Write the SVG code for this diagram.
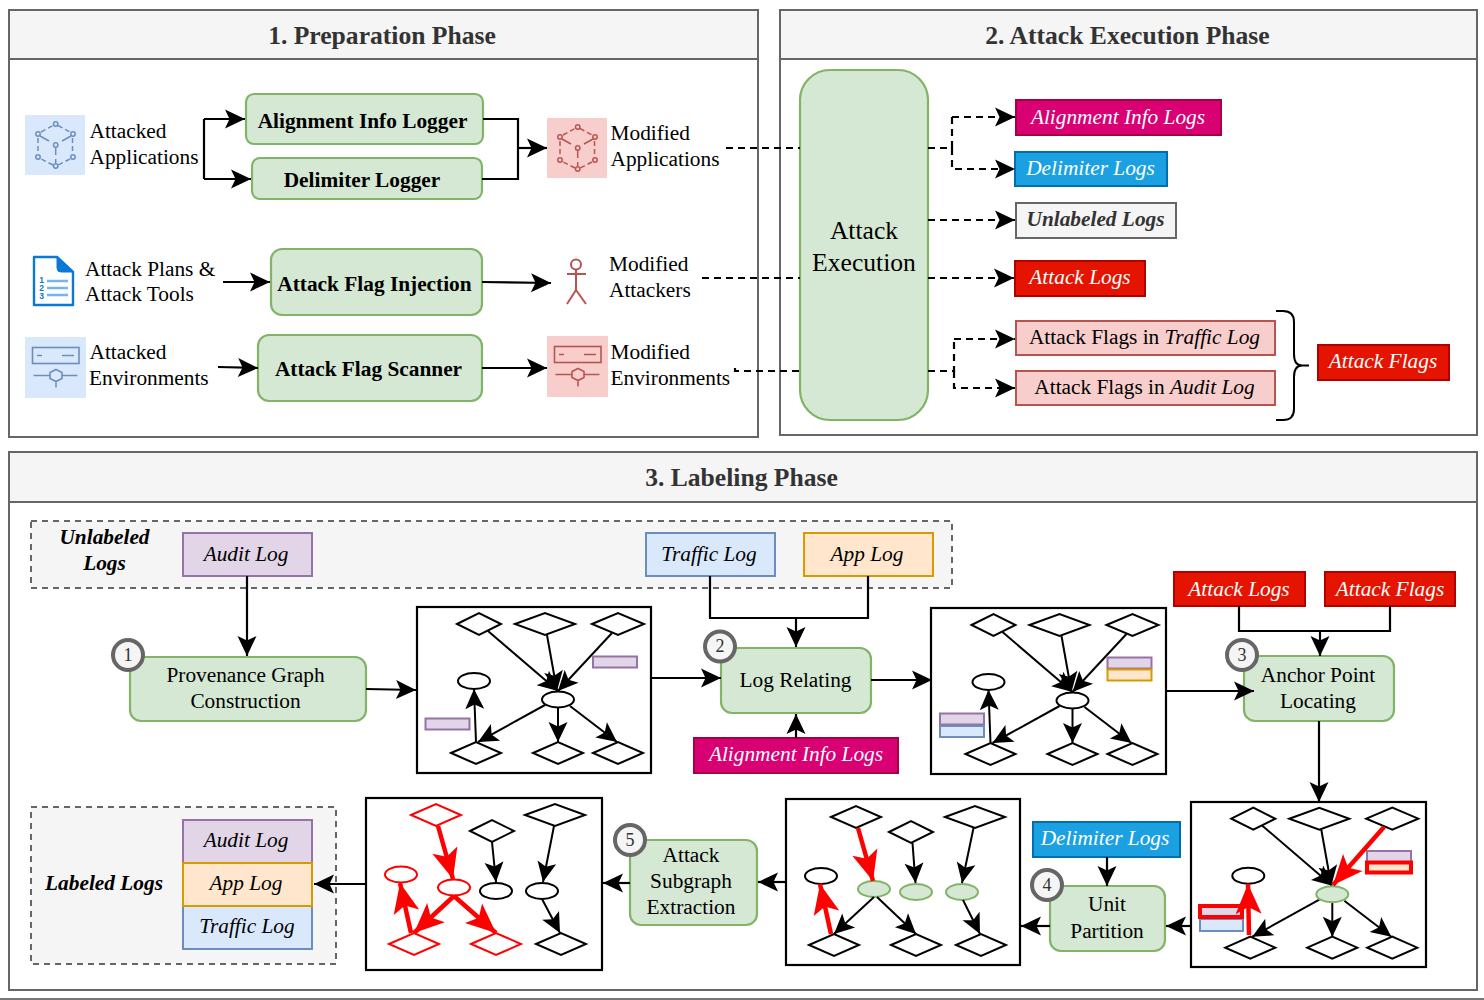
<svg xmlns="http://www.w3.org/2000/svg" width="1484" height="1000" viewBox="0 0 1484 1000">
<style>
text{font-family:"Liberation Serif","Times New Roman",serif;font-size:21.33px;fill:#000}
.m{text-anchor:middle}
.b{font-weight:bold}
.i{font-style:italic}
.w{fill:#fff}
.h{font-size:25.6px;font-weight:bold;fill:#333;text-anchor:middle}
.big{font-size:25.6px;text-anchor:middle}
.panel{fill:#fff;stroke:#666;stroke-width:2}
.phead{fill:#f5f5f5;stroke:#666;stroke-width:2}
.g{fill:#d5e8d4;stroke:#82b366;stroke-width:2.2}
.dashbox{fill:#f5f5f5;stroke:#666;stroke-width:2;stroke-dasharray:6 5}
.pur{fill:#e1d5e7;stroke:#9673a6;stroke-width:2}
.blu{fill:#dae8fc;stroke:#6c8ebf;stroke-width:2}
.ora{fill:#ffe6cc;stroke:#d79b00;stroke-width:2}
.red{fill:#e51400;stroke:#b20000;stroke-width:2}
.pnk{fill:#f8cecc;stroke:#b85450;stroke-width:2}
.mag{fill:#d80073;stroke:#a50040;stroke-width:2}
.sky{fill:#1ba1e2;stroke:#006eaf;stroke-width:2}
.gry{fill:#f5f5f5;stroke:#666;stroke-width:2}
.badge{fill:#f5f5f5;stroke:#666;stroke-width:4}
.bn{font-size:18px;fill:#333;text-anchor:middle}
.box{fill:#fff;stroke:#000;stroke-width:2.2}
.d{fill:#fff;stroke:#000;stroke-width:2}
.dr{fill:#fff;stroke:#f00;stroke-width:2}
.eg{fill:#d5e8d4;stroke:#82b366;stroke-width:2}
.c{fill:none;stroke:#000;stroke-width:2.2}
.ca{fill:none;stroke:#000;stroke-width:2.2;marker-end:url(#a)}
.cd{fill:none;stroke:#000;stroke-width:2.2;stroke-dasharray:7 5}
.cda{fill:none;stroke:#000;stroke-width:2.2;stroke-dasharray:7 5;marker-end:url(#a)}
.e{fill:none;stroke:#000;stroke-width:2;marker-end:url(#a)}
.er{fill:none;stroke:#f00;stroke-width:4.5;marker-end:url(#r)}
.rr{stroke:#f00;stroke-width:4}
.num{font-family:"Liberation Sans",sans-serif;font-size:8.500px;font-weight:bold;fill:#0a78d6;text-anchor:middle}
</style>
<defs>
<marker id="a" markerUnits="userSpaceOnUse" markerWidth="22" markerHeight="22" viewBox="0 0 22 22" refX="21" refY="11" orient="auto"><path d="M21,11 L1,1.500 L5.500,11 L1,20.500 Z" fill="#000"/></marker>
<marker id="r" markerUnits="userSpaceOnUse" markerWidth="32" markerHeight="32" viewBox="0 0 32 32" refX="31" refY="16" orient="auto"><path d="M31,16 L1,3 L8,16 L1,29 Z" fill="#f00"/></marker>
<g id="cube" fill="none" stroke="currentColor" stroke-width="1.500">
<path d="M33,10.500 L45,17 M16,17 L28,10.500 M47.500,23 V38 M13,23 V38 M45,44 L33,50 M28,50 L16,44" stroke-dasharray="5 3"/>
<path d="M15,21 L24,26 M37,26 L46,21 M30.700,33 V40 M30.700,44 V48"/>
<circle cx="30.700" cy="9" r="2.200"/><circle cx="48" cy="19" r="2.200"/><circle cx="48" cy="42" r="2.200"/><circle cx="30.700" cy="51" r="2.200"/><circle cx="13" cy="42" r="2.200"/><circle cx="13" cy="19" r="2.200"/><circle cx="30.700" cy="30" r="2.200"/>
</g>
<g id="env" fill="none" stroke="currentColor" stroke-width="1.600">
<rect x="7.500" y="10.500" width="46.500" height="16"/>
<path d="M12,18.500 H17 M37,18.500 H49"/>
<path d="M31,32.500 L37,35.500 V41.500 L31,44.500 L25,41.500 V35.500 Z M8.500,38.500 H25 M37,38.500 H52.500 M31,44.500 V50.500"/>
</g>
<g id="gb">
<path class="d" d="M457,624 L479,613 L501,624 L479,635 Z"/>
<path class="d" d="M515,624 L545,613 L575,624 L545,635 Z"/>
<path class="d" d="M592,624 L618,613 L644,624 L618,635 Z"/>
<path class="d" d="M451,753 L476,742 L501,753 L476,764 Z"/>
<path class="d" d="M533,753 L558,742 L583,753 L558,764 Z"/>
<path class="d" d="M593,753 L618,742 L643,753 L618,764 Z"/>
<ellipse class="d" cx="474" cy="681" rx="16" ry="8"/>
</g>
<g id="gedges">
<path class="e" d="M488,631 L558,691"/>
<path class="e" d="M547,635 L557,691"/>
<path class="e" d="M612,633 L558,691"/>
<path class="e" d="M558,708 V742"/>
<path class="e" d="M545,705 L478,742"/>
<path class="e" d="M570,706 L617,742"/>
</g>
</defs>
<rect width="1484" height="1000" fill="#fff"/>
<path d="M0,999 H1484" stroke="#777" stroke-width="2"/>
<g id="panels">
<rect class="panel" x="9" y="10" width="749" height="427"/><rect class="phead" x="9" y="10" width="749" height="49"/>
<text class="h" x="382" y="43.500">1. Preparation Phase</text>
<rect class="panel" x="780" y="10" width="697" height="425"/><rect class="phead" x="780" y="10" width="697" height="49"/>
<text class="h" x="1127.500" y="43.500">2. Attack Execution Phase</text>
<rect class="panel" x="9" y="452" width="1468" height="538"/><rect class="phead" x="9" y="452" width="1468" height="50"/>
<text class="h" x="741.500" y="486">3. Labeling Phase</text>
<rect class="dashbox" x="31" y="521" width="921" height="67"/>
<rect class="dashbox" x="31" y="807" width="305" height="157"/>
<text class="b i m" x="104.500" y="544">Unlabeled</text><text class="b i m" x="104.500" y="570">Logs</text>
<text class="b i m" x="104" y="890">Labeled Logs</text>
</g>
<g id="attacked-applications"><rect x="25" y="115" width="60" height="60" fill="#dae8fc"/><use href="#cube" x="25" y="115" color="#6c8ebf"/><text x="89.500" y="138">Attacked</text><text x="89.500" y="164">Applications</text></g>
<g id="alignment-info-logger"><rect class="g" x="246" y="94" width="237" height="50" rx="8"/><text class="b m" x="362.500" y="127.500">Alignment Info Logger</text></g>
<g id="delimiter-logger"><rect class="g" x="252" y="158" width="230" height="41" rx="8"/><text class="b m" x="362" y="187">Delimiter Logger</text></g>
<g id="modified-applications"><rect x="547" y="118" width="60" height="60" fill="#f8cecc"/><use href="#cube" x="547" y="118" color="#b85450"/><text x="610.500" y="140">Modified</text><text x="610.500" y="166">Applications</text></g>
<g id="attack-plans"><path d="M34,257 H57 L73,272 V305 H34 Z" fill="#fff" stroke="#0a78d6" stroke-width="2.400" stroke-linejoin="round"/><path d="M57,257 L73,272 H61 Q57,272 57,268 Z" fill="#0a78d6" stroke="#0a78d6"/><path d="M47,281 H68 M47,288 H68 M47,295 H68" stroke="#75b5f2" stroke-width="2.400"/><text class="num" x="41.500" y="283">1</text><text class="num" x="41.500" y="291">2</text><text class="num" x="41.500" y="299">3</text><text x="85" y="276">Attack Plans &amp;</text><text x="85" y="301">Attack Tools</text></g>
<g id="attack-flag-injection"><rect class="g" x="271" y="249" width="211" height="66" rx="11"/><text class="b m" x="374.500" y="291">Attack Flag Injection</text></g>
<g id="modified-attackers"><g fill="none" stroke="#b85450" stroke-width="2"><circle cx="576" cy="264.500" r="5"/><path d="M576,269.500 V290 M567,274 H586 M576,290 L567,304 M576,290 L586,304"/></g><text x="609" y="271">Modified</text><text x="609" y="297">Attackers</text></g>
<g id="attacked-environments"><rect x="25" y="337" width="61" height="61" fill="#dae8fc"/><use href="#env" x="25" y="337" color="#6c8ebf"/><text x="89.500" y="359">Attacked</text><text x="89" y="385">Environments</text></g>
<g id="attack-flag-scanner"><rect class="g" x="258" y="335" width="224" height="66" rx="11"/><text class="b m" x="368.500" y="375.500">Attack Flag Scanner</text></g>
<g id="modified-environments"><rect x="547" y="336" width="61" height="61" fill="#f8cecc"/><use href="#env" x="547" y="336" color="#b85450"/><text x="610.500" y="359">Modified</text><text x="610.500" y="385">Environments</text></g>
<g id="attack-execution-shape"><rect class="g" x="800" y="70" width="128" height="350" rx="30"/></g>
<g id="alignment-info-logs"><rect class="mag" x="1016" y="100" width="205" height="35"/><text class="i w m" x="1118" y="124">Alignment Info Logs</text></g>
<g id="delimiter-logs"><rect class="sky" x="1015" y="152" width="152" height="34"/><text class="i w m" x="1090.500" y="175">Delimiter Logs</text></g>
<g id="unlabeled-logs"><rect class="gry" x="1016" y="203" width="160" height="35"/><text class="i b m" style="fill:#333" x="1095.500" y="226">Unlabeled Logs</text></g>
<g id="attack-logs"><rect class="red" x="1015" y="261" width="130" height="35"/><text class="i w m" x="1080" y="284">Attack Logs</text></g>
<g id="flags-traffic"><rect class="pnk" x="1016" y="321" width="259" height="34"/><text class="m" x="1144.500" y="343.500">Attack Flags in <tspan class="i">Traffic Log</tspan></text></g>
<g id="flags-audit"><rect class="pnk" x="1016" y="371" width="259" height="34"/><text class="m" x="1144.500" y="393.500">Attack Flags in <tspan class="i">Audit Log</tspan></text></g>
<g id="attack-flags"><rect class="red" x="1318" y="345" width="131" height="35"/><text class="i w m" x="1383" y="367.500">Attack Flags</text></g>
<g id="audit-log-top"><rect class="pur" x="183" y="533" width="129" height="43"/><text class="i m" x="246" y="561">Audit Log</text></g>
<g id="traffic-log-top"><rect class="blu" x="646" y="533" width="129" height="43"/><text class="i m" x="709" y="561">Traffic Log</text></g>
<g id="app-log-top"><rect class="ora" x="804" y="533" width="129" height="43"/><text class="i m" x="867" y="561">App Log</text></g>
<g id="provenance"><rect class="g" x="130" y="657" width="236" height="64" rx="11"/><text class="m" x="245.500" y="681.500">Provenance Graph</text><text class="m" x="245.500" y="707.500">Construction</text><circle class="badge" cx="128" cy="655" r="15"/><text class="bn" x="128" y="661">1</text></g>
<g id="graph-1"><rect class="box" x="417" y="607" width="234" height="166"/><use href="#gb"/><use href="#gedges"/><ellipse class="d" cx="558" cy="699.500" rx="16" ry="8"/><path class="e" d="M476,742 L474,689"/><rect class="pur" x="593" y="656.500" width="44" height="11"/><rect class="pur" x="425.500" y="718.500" width="44" height="11"/></g>
<g id="log-relating"><rect class="g" x="721" y="648" width="150" height="65" rx="11"/><text class="m" x="795.500" y="686.500">Log Relating</text><circle class="badge" cx="720" cy="646.500" r="15"/><text class="bn" x="720" y="652">2</text></g>
<g id="alignment-info-logs-3"><rect class="mag" x="694" y="738" width="204" height="35"/><text class="i w m" x="796" y="761">Alignment Info Logs</text></g>
<g id="graph-2"><rect class="box" x="931" y="608" width="235" height="166"/><g transform="translate(514.500,1)"><use href="#gb"/><use href="#gedges"/><ellipse class="d" cx="558" cy="699.500" rx="16" ry="8"/><path class="e" d="M476,742 L474,689"/></g><rect class="pur" x="1107.500" y="657.500" width="44" height="11"/><rect class="ora" x="1107.500" y="669.500" width="44" height="11"/><rect class="pur" x="940" y="713.500" width="44" height="11"/><rect class="blu" x="940" y="726" width="44" height="11"/></g>
<g id="attack-logs-3"><rect class="red" x="1174" y="572" width="131" height="34"/><text class="i w m" x="1239" y="596">Attack Logs</text></g>
<g id="attack-flags-3"><rect class="red" x="1325" y="572" width="130" height="34"/><text class="i w m" x="1390" y="596">Attack Flags</text></g>
<g id="anchor"><rect class="g" x="1244" y="656" width="150" height="65" rx="11"/><text class="m" x="1318" y="681.500">Anchor Point</text><text class="m" x="1318" y="707.500">Locating</text><circle class="badge" cx="1242" cy="655" r="15"/><text class="bn" x="1242" y="661">3</text></g>
<g id="graph-3"><rect class="box" x="1191" y="802" width="235" height="165"/><g transform="translate(774.300,194.700)"><use href="#gb"/><path class="e" d="M488,631 L558,691"/><path class="e" d="M547,635 L557,691"/><path class="e" d="M558,708 V742"/><path class="e" d="M545,705 L478,742"/><path class="e" d="M570,706 L617,742"/><ellipse class="eg" cx="558" cy="699.500" rx="16" ry="8"/></g><rect class="pur" x="1367" y="851" width="44" height="11"/><rect class="ora rr" x="1367" y="862.500" width="44" height="10"/><rect class="blu" x="1200" y="919" width="43" height="12"/><rect class="pur rr" x="1200" y="906" width="42" height="11"/><path class="er" d="M1384,827 L1333,885"/><path class="er" d="M1249,935 L1248,884"/></g>
<g id="delimiter-logs-3"><rect class="sky" x="1033" y="822" width="147" height="35"/><text class="i w m" x="1105" y="845">Delimiter Logs</text></g>
<g id="unit-partition"><rect class="g" x="1050" y="886" width="115" height="65" rx="11"/><text class="m" x="1107" y="911">Unit</text><text class="m" x="1107" y="937.500">Partition</text><circle class="badge" cx="1047" cy="885" r="15"/><text class="bn" x="1047" y="891">4</text></g>
<g id="graph-4"><rect class="box" x="786" y="799" width="234" height="166"/>
<path class="d" d="M831,817 L856,806 L881,817 L856,828 Z"/><path class="d" d="M889,832 L911,821 L933,832 L911,843 Z"/><path class="d" d="M945,817 L975,806 L1005,817 L975,828 Z"/>
<path class="d" d="M809,945 L834,934 L859,945 L834,956 Z"/><path class="d" d="M891,945 L916,934 L941,945 L916,956 Z"/><path class="d" d="M956,945 L981,934 L1006,945 L981,956 Z"/>
<ellipse class="d" cx="821" cy="876" rx="16" ry="8"/><ellipse class="eg" cx="874" cy="889" rx="16" ry="8"/><ellipse class="eg" cx="916" cy="892" rx="16" ry="8"/><ellipse class="eg" cx="962" cy="892" rx="16" ry="8"/>
<path class="e" d="M912.500,843 L915.500,883"/><path class="e" d="M973.500,828 L962,883"/><path class="e" d="M874,897 L834,934"/><path class="e" d="M877,897 L916,934"/><path class="e" d="M963,900 L980,934"/>
<path class="er" d="M858,828 L873,881"/><path class="er" d="M831,934 L820,884"/></g>
<g id="subgraph"><rect class="g" x="630" y="840" width="127" height="85" rx="11"/><text class="m" x="691" y="862">Attack</text><text class="m" x="691" y="888">Subgraph</text><text class="m" x="691" y="914">Extraction</text><circle class="badge" cx="630" cy="840" r="15"/><text class="bn" x="630" y="846">5</text></g>
<g id="graph-5"><rect class="box" x="366" y="798" width="236" height="172"/>
<path class="dr" d="M411,815 L436,804 L461,815 L436,826 Z"/><path class="d" d="M470,831 L492,820 L514,831 L492,842 Z"/><path class="d" d="M525,815 L555,804 L585,815 L555,826 Z"/>
<path class="dr" d="M389,944 L414,933 L439,944 L414,955 Z"/><path class="dr" d="M471,944 L496,933 L521,944 L496,955 Z"/><path class="d" d="M536,944 L561,933 L586,944 L561,955 Z"/>
<ellipse class="dr" cx="401" cy="874.500" rx="16" ry="8"/><ellipse class="dr" cx="454" cy="887.500" rx="16" ry="8"/><ellipse class="d" cx="496" cy="891" rx="16" ry="8"/><ellipse class="d" cx="542" cy="891" rx="16" ry="8"/>
<path class="e" d="M492,842 L496,882"/><path class="e" d="M554,826 L543,882"/><path class="e" d="M542,899 L560,933"/>
<path class="er" d="M438,826 L453,879"/><path class="er" d="M411,933 L400,883"/><path class="er" d="M454,896 L414,933"/><path class="er" d="M454,896 L496,933"/></g>
<g id="labeled-stack"><rect class="pur" x="183" y="820" width="129" height="43"/><text class="i m" x="246" y="847">Audit Log</text><rect class="blu" x="183" y="906" width="129" height="43"/><text class="i m" x="247" y="933">Traffic Log</text><rect class="ora" x="183" y="863" width="129" height="43"/><text class="i m" x="246" y="890">App Log</text></g>
<g id="connectors">
<path class="c" d="M204,119 V179"/>
<path class="ca" d="M204,119 H245"/><path class="ca" d="M204,179 H251"/>
<path class="c" d="M483,119 H518 V179 H482"/><path class="ca" d="M518,148 H547"/>
<path class="ca" d="M223,282 H270"/><path class="ca" d="M482,282 L551,283"/>
<path class="ca" d="M218,367 L258,368"/><path class="ca" d="M482,368 H547"/>
<path class="cd" d="M726,148 H800 M928,148 H952 V117"/><path class="cda" d="M952,117 H1015"/>
<path class="cda" d="M952,148 V169 H1015"/>
<path class="cda" d="M928,220 H1015"/>
<path class="cd" d="M702,278 H800"/><path class="cda" d="M928,278 H1014"/>
<path class="cd" d="M735,368 V371 H800 M928,371 H954 V339"/><path class="cda" d="M954,339 H1015"/>
<path class="cda" d="M954,371 V388 H1015"/>
<path d="M1276,311 H1283 Q1294,311 1294,322 V354 Q1294,365.500 1302,365.500 H1309 M1302,365.500 Q1294,365.500 1294,377 V409 Q1294,420 1283,420 H1276" fill="none" stroke="#000" stroke-width="2"/>
<path class="ca" d="M247,576 V656"/>
<path class="ca" d="M366,689 L416,690"/>
<path class="ca" d="M651,678 H721"/>
<path class="c" d="M710,576 V618 H868 V576"/><path class="ca" d="M796,618 V647"/>
<path class="ca" d="M796,738 V714"/>
<path class="ca" d="M871,680 H932"/>
<path class="c" d="M1239,606 V631 H1390 V606"/><path class="ca" d="M1320,631 V656"/>
<path class="ca" d="M1166,691 H1254"/>
<path class="ca" d="M1319,721 V802"/>
<path class="ca" d="M1107,857 V886"/>
<path class="ca" d="M1191,926 H1166"/>
<path class="ca" d="M1050,926 H1021"/>
<path class="ca" d="M785,882 H758"/>
<path class="ca" d="M630,883 H603"/>
<path class="ca" d="M365,884 H314"/>
</g>
<g id="attack-execution"><text class="big" x="864" y="239">Attack</text><text class="big" x="864" y="271">Execution</text></g>
</svg>
